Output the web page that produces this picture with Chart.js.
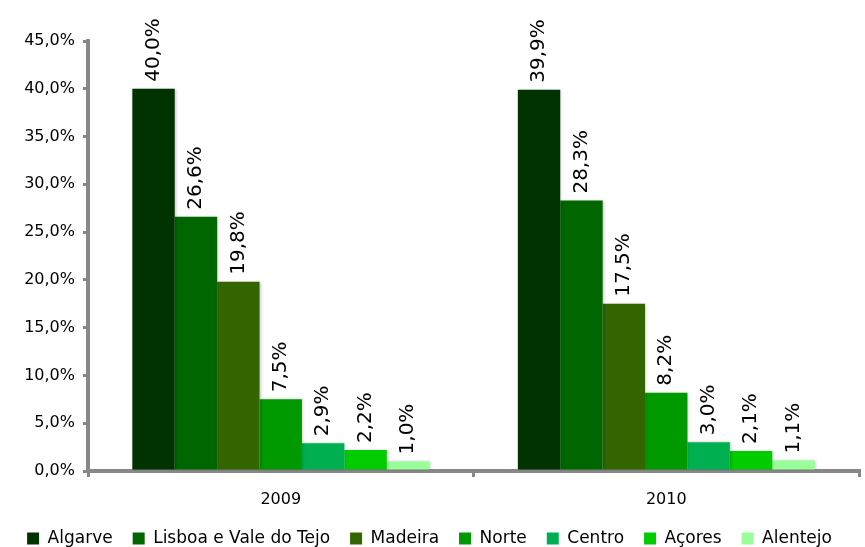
<!DOCTYPE html>
<html>
<head>
<meta charset="utf-8">
<script src="https://cdn.jsdelivr.net/npm/chart.js@4"></script>
<style>
  html, body { margin: 0; padding: 0; background: #fff; overflow: hidden; }
  #wrap { width: 865px; height: 547px; overflow: hidden; }
</style>
</head>
<body>
<div id="wrap"><canvas id="regionChart" width="865" height="557"></canvas></div>
<script>
// Years on the x axis
const years = ['2009', '2010'];

// Share per region (%), one array per region
const algarve = [40.0, 39.9];
const lisboa = [26.6, 28.3];
const madeira = [19.8, 17.5];
const norte = [7.5, 8.2];
const centro = [2.9, 3.0];
const acores = [2.2, 2.1];
const alentejo = [1.0, 1.1];

const regionNames = ['Algarve', 'Lisboa e Vale do Tejo', 'Madeira', 'Norte', 'Centro', 'Açores', 'Alentejo'];
const regionValues = [algarve, lisboa, madeira, norte, centro, acores, alentejo];
const regionColors = ['#003300', '#006600', '#336600', '#009900', '#00B050', '#00CC00', '#99FF99'];

const yTicks = [0, 5, 10, 15, 20, 25, 30, 35, 40, 45];

const FONT = 'DejaVu Sans';

function pct(v) {
  return v.toFixed(1).replace('.', ',') + '%';
}

// Soft shadow behind the bars
const barShadow = {
  id: 'barShadow',
  beforeDatasetsDraw(chart) {
    const c = chart.ctx;
    c.save();
    c.shadowColor = 'rgba(0,0,0,0.22)';
    c.shadowBlur = 3;
    c.shadowOffsetX = 1;
    c.shadowOffsetY = 0;
  },
  afterDatasetsDraw(chart) {
    chart.ctx.restore();
  }
};

// Draws the rotated value above each bar
const valueLabels = {
  id: 'valueLabels',
  afterDatasetsDraw(chart) {
    const c = chart.ctx;
    c.save();
    c.font = '20px "' + FONT + '"';
    c.fillStyle = '#000';
    c.textAlign = 'left';
    c.textBaseline = 'middle';
    chart.data.datasets.forEach((ds, i) => {
      chart.getDatasetMeta(i).data.forEach((bar, j) => {
        c.save();
        c.translate(bar.x, bar.y - 7);
        c.rotate(-Math.PI / 2);
        c.fillText(pct(ds.data[j]), 0, 0);
        c.restore();
      });
    });
    c.restore();
  }
};

const ctx = document.getElementById('regionChart').getContext('2d');
new Chart(ctx, {
  type: 'bar',
  data: {
    labels: years,
    datasets: regionNames.map((name, i) => ({
      label: name,
      data: regionValues[i],
      backgroundColor: regionColors[i],
      borderWidth: 0
    }))
  },
  options: {
    responsive: false,
    animation: false,
    layout: { padding: { top: 41, right: 6, left: 0, bottom: 0 } },
    datasets: {
      bar: { categoryPercentage: 0.77, barPercentage: 1.0 }
    },
    plugins: {
      legend: {
        position: 'bottom',
        labels: {
          color: '#000',
          boxWidth: 12,
          boxHeight: 12,
          padding: 20,
          font: { family: FONT, size: 17 }
        }
      },
      tooltip: { enabled: false }
    },
    scales: {
      x: {
        afterFit: axis => {
          axis.height = 39;
        },
        grid: {
          display: true,
          drawOnChartArea: false,
          offset: true,
          color: '#888',
          lineWidth: 3,
          tickLength: 6
        },
        border: { color: '#888', width: 4 },
        ticks: {
          color: '#000',
          padding: 13,
          font: { family: FONT, size: 16 }
        }
      },
      y: {
        min: 0,
        max: 45,
        afterBuildTicks: axis => {
          axis.ticks = yTicks.map(v => ({ value: v }));
        },
        afterFit: axis => {
          axis.width = 88;
        },
        grid: {
          display: true,
          drawOnChartArea: false,
          color: '#888',
          lineWidth: 3,
          tickLength: 5
        },
        border: { color: '#888', width: 4 },
        ticks: {
          color: '#000',
          padding: 8,
          font: { family: FONT, size: 16 },
          callback: v => pct(v)
        }
      }
    }
  },
  plugins: [barShadow, valueLabels]
});
</script>
</body>
</html>
